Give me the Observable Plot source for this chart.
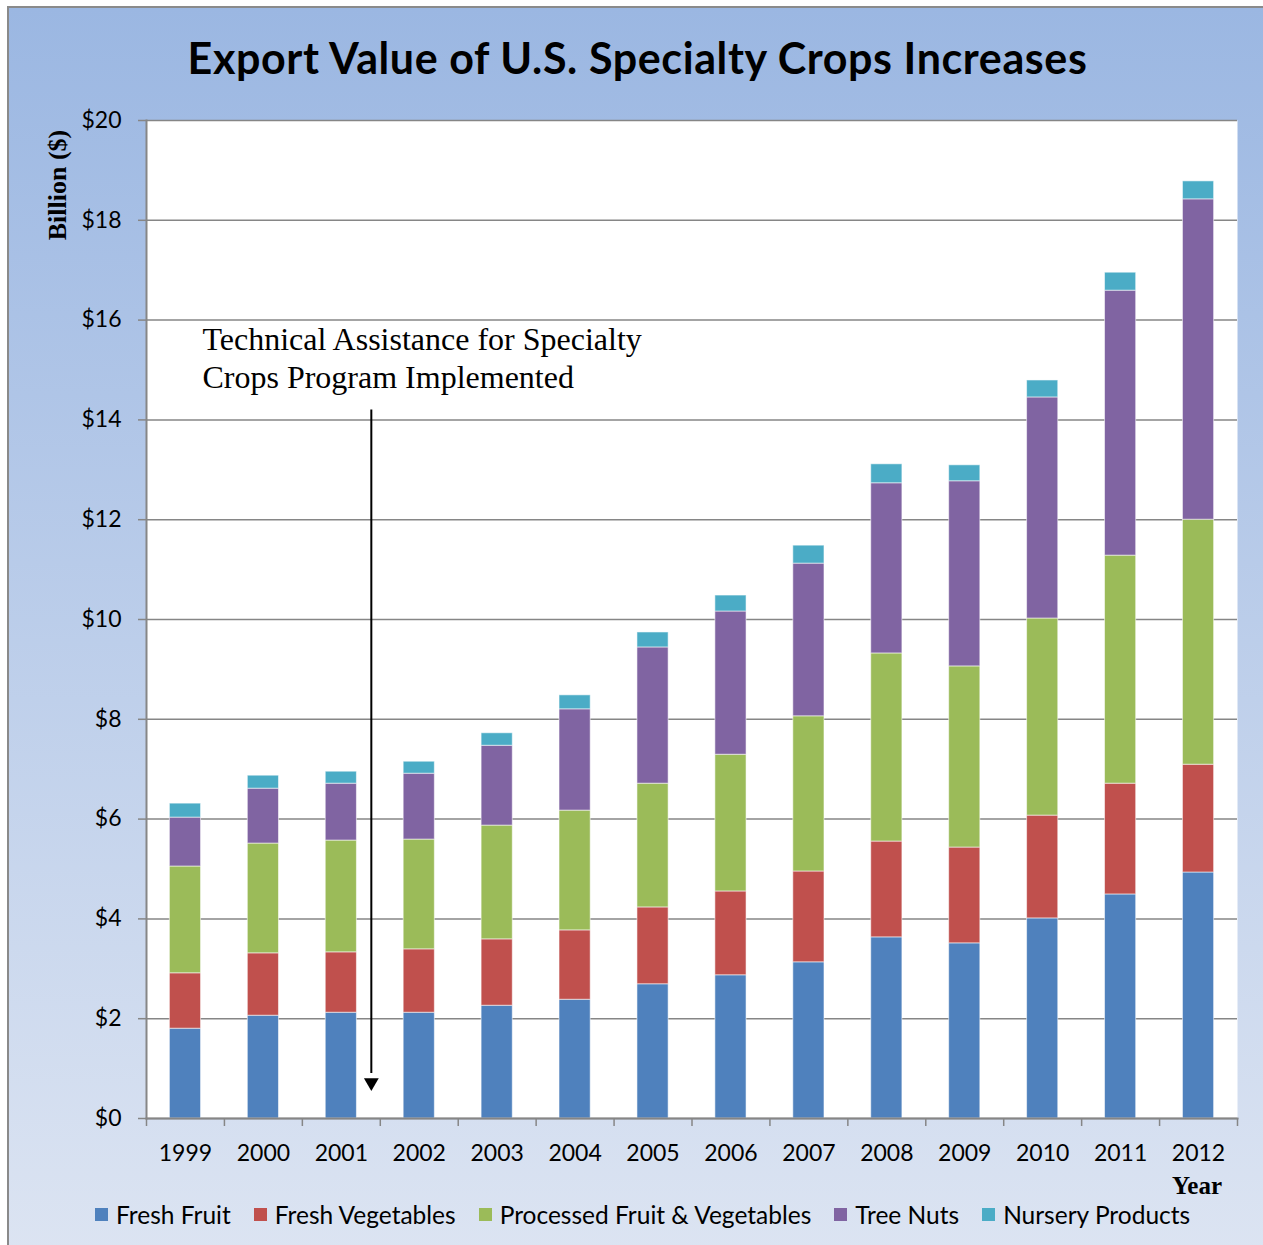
<!DOCTYPE html>
<html><head><meta charset="utf-8">
<script src="https://cdn.jsdelivr.net/npm/d3@7"></script>
<script src="https://cdn.jsdelivr.net/npm/@observablehq/plot@0.6"></script>
<style>
body{margin:0;background:#fff;}
#wrap{position:relative;width:1263px;height:1245px;overflow:hidden;}
#box{position:absolute;left:7px;top:6px;width:1260px;height:1245px;border-top:2px solid #8a8a8a;border-left:2px solid #8a8a8a;background:linear-gradient(#9bb7e2,#dce4f2);}
#title{position:absolute;left:0;top:32px;width:1275px;text-align:center;font-family:Lato,sans-serif;font-weight:bold;font-size:43px;letter-spacing:0.6px;line-height:normal;color:#000;}
#chart{position:absolute;left:0;top:100px;}
#ylab{position:absolute;left:58px;top:185px;transform:translate(-50%,-50%) rotate(-90deg);font-family:"Liberation Serif",serif;font-weight:bold;font-size:26px;white-space:nowrap;}
#xlab{position:absolute;right:41px;top:1172px;font-family:"Liberation Serif",serif;font-weight:bold;font-size:25px;line-height:normal;}
#legend{position:absolute;left:95px;top:1200px;display:flex;gap:23px;font-family:Lato,sans-serif;font-size:24.5px;line-height:normal;}
#legend .it{display:flex;align-items:center;gap:8px;}
#legend .sw{width:13px;height:13px;display:inline-block;}
</style></head><body>
<div id="wrap">
<div id="box"></div>
<div id="title">Export Value of U.S. Specialty Crops Increases</div>
<div id="chart"></div>
<div id="ylab">Billion ($)</div>
<div id="xlab">Year</div>
<div id="legend"></div>
</div>
<script>
const years = ["1999","2000","2001","2002","2003","2004","2005","2006","2007","2008","2009","2010","2011","2012"];
const freshFruit = [1.80,2.06,2.12,2.12,2.26,2.38,2.69,2.87,3.13,3.63,3.51,4.01,4.49,4.93];
const freshVegetables = [1.11,1.25,1.21,1.27,1.33,1.39,1.54,1.68,1.82,1.92,1.92,2.06,2.22,2.16];
const processed = [2.14,2.20,2.24,2.20,2.28,2.40,2.48,2.74,3.11,3.77,3.63,3.95,4.57,4.91];
const treeNuts = [0.98,1.10,1.14,1.32,1.60,2.03,2.73,2.87,3.06,3.41,3.71,4.43,5.31,6.42];
const nursery = [0.28,0.26,0.24,0.24,0.25,0.28,0.30,0.32,0.36,0.38,0.32,0.34,0.36,0.36];
const series = ["Fresh Fruit","Fresh Vegetables","Processed Fruit & Vegetables","Tree Nuts","Nursery Products"];
const colors = ["#4f81bd","#c0504d","#9bbb59","#8064a2","#4bacc6"];
const yTicks = [0,2,4,6,8,10,12,14,16,18,20];
const annotation = "Technical Assistance for Specialty\nCrops Program Implemented";

const values = [freshFruit, freshVegetables, processed, treeNuts, nursery];
const data = years.flatMap((yr,i)=>series.map((s,j)=>({year:yr, series:s, value:values[j][i]})));

const W=1263, H=1080, ML=146, MR=26, MT=20, MB=62;
const step = (W-ML-MR)/years.length;
const gray = "#868686";

const chart = Plot.plot({
  width:W, height:H, marginLeft:ML, marginRight:MR, marginTop:MT, marginBottom:MB,
  style:{background:"transparent", fontFamily:"Lato, sans-serif", fontSize:"23px", color:"#000", overflow:"visible"},
  x:{domain:years, paddingInner:0.6, paddingOuter:0.3, round:false, label:null},
  y:{domain:[0,20], label:null},
  color:{domain:series, range:colors},
  marks:[
    Plot.frame({fill:"white", stroke:null}),
    Plot.gridY(yTicks, {stroke:gray, strokeOpacity:1, strokeWidth:1.5}),
    Plot.barY(data, {x:"year", y:"value", fill:"series", stroke:"white", strokeOpacity:0.55, strokeWidth:1}),
    Plot.frame({anchor:"left", stroke:gray, strokeWidth:2}),
    Plot.frame({anchor:"bottom", stroke:gray, strokeWidth:2}),
    Plot.axisY(yTicks, {tickFormat:d=>"$"+d, tickSize:8, tickPadding:17, stroke:gray, strokeWidth:1.5, label:null}),
    Plot.axisX({tickSize:0, tickPadding:26, label:null}),
    Plot.axisX({tickSize:8, tickFormat:()=>"", dx:-step/2, stroke:gray, strokeWidth:1.5, label:null}),
    Plot.axisX([years[years.length-1]], {tickSize:8, tickFormat:()=>"", dx:step/2, stroke:gray, strokeWidth:1.5, label:null}),
    Plot.text([{year:years[0], v:15.94, t:annotation}], {x:"year", y:"v", text:"t", dx:17, textAnchor:"start", lineAnchor:"top", fontFamily:"Liberation Serif, serif", fontSize:32, lineHeight:1.19, fill:"black"}),
    Plot.ruleX([{year:"2001"}], {x:"year", y1:14.2, y2:0.9, dx:30, stroke:"black", strokeWidth:2}),
    Plot.dot([{year:"2001", v:0.55}], {x:"year", y:"v", dx:30, dy:-8.6, symbol:"triangle", r:5.5, rotate:180, fill:"black", stroke:null})
  ]
});
document.getElementById("chart").appendChild(chart);

const lg = document.getElementById("legend");
series.forEach((s,i)=>{
  const it = document.createElement("div"); it.className="it";
  const sw = document.createElement("span"); sw.className="sw"; sw.style.background=colors[i];
  const tx = document.createElement("span"); tx.textContent=s;
  it.appendChild(sw); it.appendChild(tx); lg.appendChild(it);
});
</script>
</body></html>
